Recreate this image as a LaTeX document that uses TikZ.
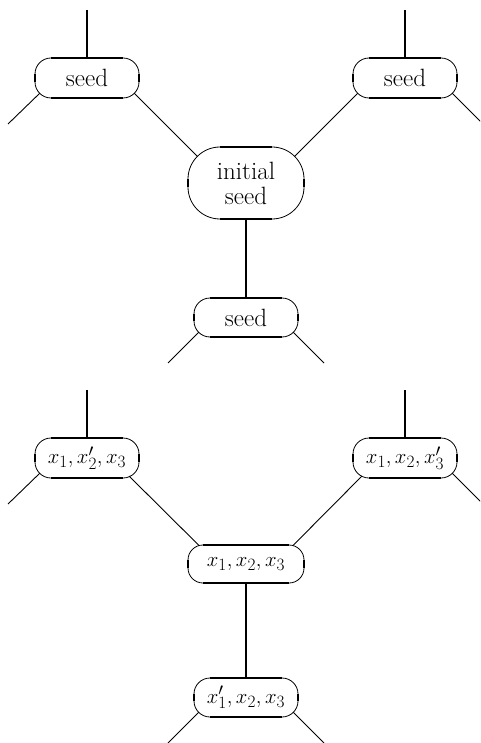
\documentclass[tikz,border=0pt]{standalone}
\usetikzlibrary{calc}
\DeclareMathSizes{21}{21}{16.5}{13}
\tikzset{
  box/.style={inner sep=0pt, outer sep=0pt, align=center, font=\fontsize{25}{25}\selectfont},
  mbox/.style={inner sep=0pt, outer sep=0pt, font=\fontsize{21}{24}\selectfont},
  thinline/.style={line width=0.8pt},
  thickline/.style={line width=2.3pt},
  vline/.style={line width=2.3pt},
  dline/.style={line width=0.9pt},
}
\newcommand\frameit[2]{%
  \draw[thinline, rounded corners=#2pt] (#1.south west) rectangle (#1.north east);
  \draw[thickline] ([xshift=#2pt]#1.north west) -- ([xshift=-#2pt]#1.north east);
  \draw[thickline] ([xshift=#2pt]#1.south west) -- ([xshift=-#2pt]#1.south east);
  \draw[thickline] ([yshift=-#2pt]#1.north west) -- ([yshift=#2pt]#1.south west);
  \draw[thickline] ([yshift=-#2pt]#1.north east) -- ([yshift=#2pt]#1.south east);
}
\begin{document}
\begin{tikzpicture}[x=1pt,y=-1pt]
\useasboundingbox (0,0) rectangle (480,743);
\clip (0,0) rectangle (480,743);
% top half
\node[box, minimum width=104, minimum height=40] (tl) at (87,78) {seed};
\node[box, minimum width=104, minimum height=40] (tr) at (405,78) {seed};
\node[box, minimum width=116, minimum height=72] (ini) at (246,183) {initial\\seed};
\node[box, minimum width=104, minimum height=39] (bs) at (246,317.5) {seed};
\frameit{tl}{16}
\frameit{tr}{16}
\frameit{ini}{32}
\frameit{bs}{16}
\coordinate (tltop) at (87,10);
\coordinate (trtop) at (405,10);
\coordinate (tlout) at (8,124);
\coordinate (trout) at (484,125);
\coordinate (bsl) at (168,363);
\coordinate (bsr) at (324,363);
\draw[vline] (tltop) -- (tl.north);
\draw[vline] (trtop) -- (tr.north);
\draw[vline] (ini.south) -- (bs.north);
\draw[dline] ($(tl.south west)+(4.7,-4.7)$) -- (tlout);
\draw[dline] ($(tr.south east)+(-4.7,-4.7)$) -- (trout);
\draw[dline] ($(tl.south east)+(-4.7,-4.7)$) -- ($(ini.north west)+(9.4,9.4)$);
\draw[dline] ($(tr.south west)+(4.7,-4.7)$) -- ($(ini.north east)+(-9.4,9.4)$);
\draw[dline] ($(bs.south west)+(4.7,-4.7)$) -- (bsl);
\draw[dline] ($(bs.south east)+(-4.7,-4.7)$) -- (bsr);
% bottom half
\node[mbox, minimum width=104, minimum height=40] (ml) at (87,458) {$x_1, x_2', x_3$};
\node[mbox, minimum width=104, minimum height=40] (mr) at (405,458) {$x_1, x_2, x_3'$};
\node[mbox, minimum width=116, minimum height=38] (mc) at (246,564) {$x_1, x_2, x_3$};
\node[mbox, minimum width=104, minimum height=39] (mb) at (246,697.5) {$x_1', x_2, x_3$};
\frameit{ml}{16}
\frameit{mr}{16}
\frameit{mc}{15}
\frameit{mb}{16}
\coordinate (mltop) at (87,390);
\coordinate (mrtop) at (405,390);
\coordinate (mlout) at (8,504);
\coordinate (mrout) at (484,505);
\coordinate (mbl) at (168,743);
\coordinate (mbr) at (324,743);
\draw[vline] (mltop) -- (ml.north);
\draw[vline] (mrtop) -- (mr.north);
\draw[vline] (mc.south) -- (mb.north);
\draw[dline] ($(ml.south west)+(4.7,-4.7)$) -- (mlout);
\draw[dline] ($(mr.south east)+(-4.7,-4.7)$) -- (mrout);
\draw[dline] ($(ml.south east)+(-10,-2)$) -- ($(mc.north west)+(11,0.5)$);
\draw[dline] ($(mr.south west)+(9,-2)$) -- ($(mc.north east)+(-11,0.5)$);
\draw[dline] ($(mb.south west)+(4.7,-4.7)$) -- (mbl);
\draw[dline] ($(mb.south east)+(-4.7,-4.7)$) -- (mbr);
\end{tikzpicture}
\end{document}
